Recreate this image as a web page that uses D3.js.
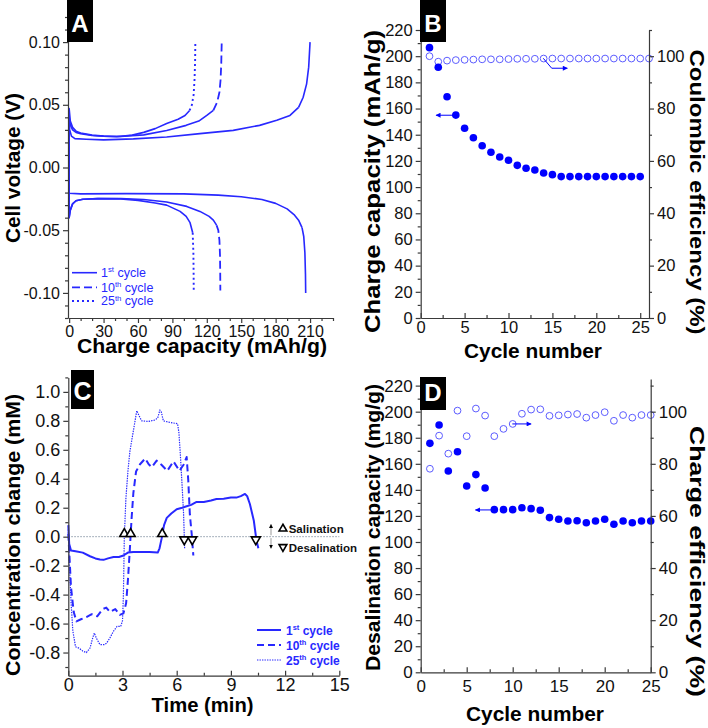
<!DOCTYPE html>
<html lang="en">
<head>
<meta charset="utf-8">
<title>Cycling and desalination performance</title>
<script src="https://d3js.org/d3.v7.min.js"></script>
<style>
  body { margin: 0; background: #fff; }
  svg text { font-family: Arial, "Liberation Sans", Helvetica, sans-serif; }
</style>
</head>
<body>
<script>
// ---------- Panel A: voltage profiles, [capacity (mAh/g), cell voltage (V)] ----------
const aCharge1 = [[0,-0.012],[0,0.036],[0.5,0.03],[2,0.025],[5,0.023],[15,0.0225],[30,0.022],[56,0.0228],[85,0.0243],[114,0.027],[143,0.0296],[166,0.0336],[181,0.0376],[192.5,0.0415],[200,0.048],[204,0.056],[207,0.0667],[208.8,0.08],[210,0.1]];
const aCharge10 = [[0,-0.01],[0,0.04],[1,0.034],[3,0.03],[6,0.028],[10,0.027],[20,0.0255],[30,0.025],[45,0.0248],[65,0.026],[85,0.0295],[102,0.0336],[113,0.037],[120,0.0415],[125.7,0.0455],[129,0.052],[131,0.06],[132,0.07],[132.6,0.083],[133,0.1]];
const aCharge25 = [[0,-0.01],[0,0.047],[1,0.037],[3,0.032],[6,0.029],[10,0.0275],[20,0.0258],[30,0.025],[41.5,0.0245],[55,0.0258],[65,0.028],[75,0.031],[85,0.035],[95,0.0385],[101,0.0415],[105,0.0455],[107,0.05],[108.5,0.058],[109.3,0.07],[109.8,0.085],[110,0.1]];
const aDischarge1 = [[0,-0.018],[0,-0.0205],[10,-0.021],[50,-0.0208],[100,-0.021],[130,-0.022],[150,-0.0233],[168,-0.0255],[180,-0.0286],[190,-0.033],[196,-0.0375],[200,-0.042],[203,-0.048],[204.5,-0.055],[205.5,-0.068],[206,-0.085],[206.2,-0.1]];
const aDischarge10 = [[0,0],[0,-0.04],[1,-0.034],[3,-0.029],[6,-0.0265],[12,-0.0253],[25,-0.0248],[45,-0.0248],[65,-0.0255],[85,-0.0275],[102.5,-0.031],[114,-0.035],[122,-0.039],[125.7,-0.042],[128.5,-0.046],[130,-0.05],[131,-0.058],[131.5,-0.07],[131.7,-0.085],[131.8,-0.098]];
const aDischarge25 = [[0,0],[0,-0.04],[1,-0.034],[3,-0.029],[6,-0.0265],[12,-0.0253],[25,-0.0248],[45,-0.025],[60,-0.0262],[75,-0.0283],[85,-0.03],[96.7,-0.035],[102,-0.039],[105.4,-0.044],[107.7,-0.052],[108.3,-0.068],[108.5,-0.085],[108.6,-0.098]];
const aXTicks = [0,30,60,90,120,150,180,210];
const aYTicks = [-0.1,-0.05,0,0.05,0.1];

// legend text shared by A and C
const cycleNum = ["1","10","25"];
const cycleSup = ["st","th","th"];

// ---------- Panel B: charge capacity and coulombic efficiency ----------
const bCycles = [1,2,3,4,5,6,7,8,9,10,11,12,13,14,15,16,17,18,19,20,21,22,23,24,25];
const bCapacity = [206.5,191.5,169,155,145,137.7,131.6,126.6,123,120.5,116.6,114.4,113,110.8,109.5,108,108,108,108,108,108,108,108,108,108];
const bCECycles = [1,2,3,4,5,6,7,8,9,10,11,12,13,14,15,16,17,18,19,20,21,22,23,24,25,26];
const bCE = [100,97.9,98.3,98.5,98.6,98.7,98.8,98.8,98.8,98.9,99,99,99,99.1,99.1,99.1,99.1,99.1,99.1,99.1,99.1,99.1,99.1,99.1,99.1,99.1];
const bXTicks = [0,5,10,15,20,25];
const bYTicks = [0,20,40,60,80,100,120,140,160,180,200,220];
const bY2Ticks = [0,20,40,60,80,100];

// ---------- Panel C: concentration change vs time ----------
const c1T = [0,0.05,0.15,0.4,0.8,1.2,1.5,1.75,1.95,2.2,2.5,2.8,3.05,3.3,3.6,4.0,4.5,4.95,5.05,5.17,5.3,5.45,5.7,6.0,6.3,6.55,6.8,7.1,7.5,7.9,8.2,8.6,9.0,9.3,9.55,9.78,9.9,10.05,10.27,10.42,10.52];
const c1V = [0.08,-0.05,-0.095,-0.1,-0.11,-0.135,-0.15,-0.158,-0.16,-0.15,-0.14,-0.14,-0.13,-0.11,-0.105,-0.105,-0.105,-0.11,-0.08,-0.01,0.08,0.13,0.16,0.19,0.2,0.21,0.22,0.24,0.24,0.25,0.26,0.262,0.27,0.27,0.28,0.295,0.28,0.226,0.11,-0.03,-0.08];
const c10T = [0,0.05,0.15,0.3,0.45,0.7,1.0,1.3,1.6,1.9,2.1,2.3,2.6,2.85,3.05,3.2,3.3,3.4,3.5,3.6,3.75,3.97,4.26,4.45,4.62,4.89,5.17,5.48,5.82,6.15,6.4,6.55,6.64,6.73,6.83,6.92];
const c10V = [0.02,-0.1,-0.35,-0.52,-0.585,-0.57,-0.555,-0.535,-0.55,-0.5,-0.49,-0.52,-0.5,-0.54,-0.53,-0.46,-0.3,-0.1,0.12,0.3,0.45,0.5,0.54,0.5,0.48,0.525,0.495,0.455,0.52,0.455,0.5,0.55,0.39,0.15,0.02,-0.13];
const c25T = [0,0.05,0.15,0.25,0.4,0.6,0.8,1.0,1.2,1.35,1.44,1.55,1.75,2.0,2.12,2.3,2.49,2.7,2.9,3.0,3.05,3.1,3.19,3.3,3.41,3.6,3.79,3.9,4.06,4.43,4.8,4.95,5.07,5.15,5.26,5.6,6.05,6.12,6.2,6.3,6.38,6.44];
const c25V = [0.05,-0.15,-0.45,-0.65,-0.76,-0.77,-0.79,-0.8,-0.77,-0.7,-0.665,-0.7,-0.745,-0.745,-0.735,-0.7,-0.655,-0.62,-0.62,-0.58,-0.4,0.0,0.27,0.45,0.59,0.73,0.87,0.84,0.8,0.796,0.806,0.82,0.875,0.86,0.8,0.79,0.78,0.72,0.57,0.35,0.16,-0.08];
const cSalinationT = [3.1,3.45,5.2];      // upward triangles
const cDesalinationT = [6.42,6.86,10.38]; // downward triangles
const cXTicks = [0,3,6,9,12,15];
const cYTicks = [-0.8,-0.6,-0.4,-0.2,0,0.2,0.4,0.6,0.8,1.0];

// ---------- Panel D: desalination capacity and charge efficiency ----------
const dCycles = [1,2,3,4,5,6,7,8,9,10,11,12,13,14,15,16,17,18,19,20,21,22,23,24,25];
const dCapacity = [175.7,189.8,154.5,169.3,143,151.7,141.4,124.8,124.8,124.8,126.3,125.6,124.3,118.7,117.4,116.1,116.3,114.8,116.1,117.4,113.6,116.1,114.8,116.1,116.1];
const dEfficiency = [78.1,90.8,83.9,100.4,90.6,101.2,98.5,90.6,93.4,95.3,99.2,100.8,100.9,98.4,98.6,98.9,99.1,97.7,98.7,99.8,96.5,98.7,97.7,98.7,98.7];
const dXTicks = [0,5,10,15,20,25];
const dYTicks = [0,20,40,60,80,100,120,140,160,180,200,220];
const dY2Ticks = [0,20,40,60,80,100];

// ---------- setup ----------
const BLUE = "#0000ff";
const LINE_BLUE = "#2828ff";
const OPEN_BLUE = "#5c5cff";
const AXIS_COL = "#3a3a3a";

const svg = d3.select("body").append("svg").attr("width", 708).attr("height", 728);

const defs = svg.append("defs");
function arrowMarker(id, color, w, h) {
  defs.append("marker").attr("id", id)
    .attr("viewBox", "0 0 10 10").attr("refX", 9).attr("refY", 5)
    .attr("markerUnits", "userSpaceOnUse")
    .attr("markerWidth", w).attr("markerHeight", h).attr("orient", "auto")
    .append("path").attr("d", "M0,0L10,5L0,10z").attr("fill", color);
}
arrowMarker("arrBlue", BLUE, 6, 5);
arrowMarker("arrBlack", "#000", 4, 4);

function minorTicks(scale, step, majors) {
  const [lo, hi] = scale.domain();
  const out = [];
  for (let v = Math.ceil(lo / step - 1e-6) * step; v <= hi + 1e-9; v += step) {
    const r = Math.round(v * 10000) / 10000;
    if (!majors.some(m => Math.abs(m - r) < step / 100)) out.push(r);
  }
  return out;
}

function drawAxis(orient, scale, pos, major, minorStep, fmt, fontSize, inward, pad) {
  const gen = { left: d3.axisLeft, right: d3.axisRight, bottom: d3.axisBottom }[orient];
  const g = svg.append("g")
    .attr("transform", orient === "bottom" ? `translate(0,${pos})` : `translate(${pos},0)`);
  g.call(gen(scale).tickValues(major).tickFormat(fmt)
    .tickSize(inward ? -5 : 5).tickSizeOuter(0).tickPadding(pad == null ? 3 : pad));
  g.append("g")
    .call(gen(scale).tickValues(minorTicks(scale, minorStep, major)).tickFormat("")
      .tickSize(inward ? -3 : 3).tickSizeOuter(0))
    .select(".domain").remove();
  g.selectAll(".domain, line").attr("stroke", AXIS_COL).attr("stroke-width", 1.2);
  g.selectAll("text").attr("font-size", fontSize).attr("fill", "#111")
    .attr("font-family", null);
  return g;
}

function title(text, x, y, rot, len, size) {
  const t = svg.append("text")
    .attr("transform", `translate(${x},${y}) rotate(${rot})`)
    .attr("text-anchor", "middle").attr("font-weight", "bold")
    .attr("font-size", size).attr("fill", "#000").text(text);
  if (len) t.attr("textLength", len).attr("lengthAdjust", "spacingAndGlyphs");
}

function panelLabel(letter, x, y, w, h, base, size) {
  svg.append("rect").attr("x", x).attr("y", y).attr("width", w).attr("height", h).attr("fill", "#000");
  svg.append("text").attr("x", x + w / 2).attr("y", base).attr("text-anchor", "middle")
    .attr("font-weight", "bold").attr("font-size", size).attr("fill", "#fff").text(letter);
}

function cycleLabel(sel, i, size) {
  sel.append("tspan").text(cycleNum[i]);
  sel.append("tspan").attr("font-size", size * 0.62).attr("dy", -size * 0.38).text(cycleSup[i]);
  sel.append("tspan").attr("font-size", size).attr("dy", size * 0.38).text(" cycle");
}

const fmtPlain = d => String(d);

// ================= Panel A =================
const xA = d3.scaleLinear().domain([-1, 230]).range([68, 333]);
const yA = d3.scaleLinear().domain([-0.12, 0.12]).range([318, 17]);

const lineA = d3.line().x(d => xA(d[0])).y(d => yA(d[1]));
const aStyles = [
  { dash: null, width: 1.6 },
  { dash: "8,4", width: 1.8 },
  { dash: "2,3", width: 1.9 }
];
const aCurves = [
  [aCharge1, 0], [aDischarge1, 0],
  [aCharge10, 1], [aDischarge10, 1],
  [aCharge25, 2], [aDischarge25, 2]
];
// dense flat part renders solid, steep end shows the cycle's dash pattern
aCurves.forEach(([pts, s]) => {
  const k = pts.findIndex(p => p[0] > 50 && Math.abs(p[1]) >= 0.045);
  const flat = k < 0 ? pts : pts.slice(0, k + 1);
  svg.append("path").attr("d", lineA(flat)).attr("fill", "none")
    .attr("stroke", LINE_BLUE).attr("stroke-width", 1.6).attr("stroke-linejoin", "round");
  if (k >= 0) {
    svg.append("path").attr("d", lineA(pts.slice(k))).attr("fill", "none")
      .attr("stroke", LINE_BLUE).attr("stroke-width", aStyles[s].width)
      .attr("stroke-dasharray", aStyles[s].dash);
  }
});

drawAxis("left", yA, 68, aYTicks, 0.01, d => d.toFixed(2), 16, false);
drawAxis("bottom", xA, 318, aXTicks, 10, fmtPlain, 16, false);

// legend A
[272.7, 287.3, 301].forEach((ly, i) => {
  svg.append("line").attr("x1", 72).attr("x2", 97).attr("y1", ly).attr("y2", ly)
    .attr("stroke", LINE_BLUE).attr("stroke-width", aStyles[i].width)
    .attr("stroke-dasharray", aStyles[i].dash);
  const t = svg.append("text").attr("x", 101).attr("y", ly + 4.3)
    .attr("font-size", 12.5).attr("fill", LINE_BLUE);
  cycleLabel(t, i, 12.5);
});

title("Charge capacity (mAh/g)", 202, 353, 0, 250, 21);
title("Cell voltage (V)", 20, 168, -90, 150, 21);
panelLabel("A", 67, 0, 26, 42, 32, 24);

// ================= Panel B =================
const xB = d3.scaleLinear().domain([0, 26]).range([420.7, 649]);
const yB = d3.scaleLinear().domain([0, 220]).range([318, 30]);
const yB2 = d3.scaleLinear().domain([0, 110]).range([318, 30]);

svg.append("g").selectAll("circle").data(bCECycles).join("circle")
  .attr("cx", d => xB(d)).attr("cy", (d, i) => yB2(bCE[i])).attr("r", 3.4)
  .attr("fill", "none").attr("stroke", OPEN_BLUE).attr("stroke-width", 1);
svg.append("g").selectAll("circle").data(bCycles).join("circle")
  .attr("cx", d => xB(d)).attr("cy", (d, i) => yB(bCapacity[i])).attr("r", 3.8)
  .attr("fill", BLUE);

const bArrowLeft = [[3.9, 154.9], [1.75, 154.9]];          // left-axis units
const bArrowRight = [[13.96, 99.2], [14.92, 95.4], [16.7, 95.4]]; // right-axis units
svg.append("path").attr("d", d3.line().x(d => xB(d[0])).y(d => yB(d[1]))(bArrowLeft))
  .attr("fill", "none").attr("stroke", BLUE).attr("stroke-width", 1).attr("marker-end", "url(#arrBlue)");
svg.append("path").attr("d", d3.line().x(d => xB(d[0])).y(d => yB2(d[1]))(bArrowRight))
  .attr("fill", "none").attr("stroke", BLUE).attr("stroke-width", 1).attr("marker-end", "url(#arrBlue)");

drawAxis("left", yB, 420.7, bYTicks, 10, fmtPlain, 16.5, false);
drawAxis("right", yB2, 649, bY2Ticks, 10, fmtPlain, 16.5, false);
drawAxis("bottom", xB, 318, bXTicks, 2.5, fmtPlain, 16.5, true);

title("Cycle number", 533, 358, 0, 138, 21);
title("Charge capacity (mAh/g)", 380, 181.5, -90, 303, 22);
title("Coulombic efficiency (%)", 690, 192, 90, 285, 21);
panelLabel("B", 420, 0, 26, 42, 32, 24);

// ================= Panel C =================
const xC = d3.scaleLinear().domain([0, 15]).range([68.3, 339.3]);
const yC = d3.scaleLinear().domain([-0.96, 1.1]).range([675.7, 377.4]);

svg.append("line").attr("x1", xC(0)).attr("x2", xC(15)).attr("y1", yC(0)).attr("y2", yC(0))
  .attr("stroke", "#8a98a8").attr("stroke-width", 1).attr("stroke-dasharray", "1.5,1.5");

const cSeries = [
  { t: c1T, v: c1V, dash: null, width: 2 },
  { t: c10T, v: c10V, dash: "7,4", width: 2 },
  { t: c25T, v: c25V, dash: "1.4,1.1", width: 1.2 }
];
const lineC = d3.line().x(d => xC(d[0])).y(d => yC(d[1]));
cSeries.forEach(s => {
  svg.append("path").attr("d", lineC(d3.zip(s.t, s.v))).attr("fill", "none")
    .attr("stroke", LINE_BLUE).attr("stroke-width", s.width)
    .attr("stroke-dasharray", s.dash).attr("stroke-linejoin", "round");
});

const triUp = d3.symbol(d3.symbolTriangle, 36);
svg.append("g").selectAll("path").data(cSalinationT).join("path")
  .attr("d", triUp).attr("transform", d => `translate(${xC(d)},${yC(0) - 2.8})`)
  .attr("fill", "#fff").attr("stroke", "#000").attr("stroke-width", 1.6);
svg.append("g").selectAll("path").data(cDesalinationT).join("path")
  .attr("d", triUp).attr("transform", d => `translate(${xC(d)},${yC(0) + 2.8}) rotate(180)`)
  .attr("fill", "#fff").attr("stroke", "#000").attr("stroke-width", 1.6);

// salination / desalination key
const keyT = 11.22;
svg.append("line").attr("x1", xC(keyT)).attr("x2", xC(keyT)).attr("y1", yC(0.01)).attr("y2", yC(0.085))
  .attr("stroke", "#999").attr("stroke-width", 1).attr("marker-end", "url(#arrBlack)");
svg.append("line").attr("x1", xC(keyT)).attr("x2", xC(keyT)).attr("y1", yC(-0.01)).attr("y2", yC(-0.08))
  .attr("stroke", "#999").attr("stroke-width", 1).attr("marker-end", "url(#arrBlack)");
svg.append("path").attr("d", d3.symbol(d3.symbolTriangle, 26))
  .attr("transform", `translate(${xC(11.88)},${yC(0.055)})`)
  .attr("fill", "#fff").attr("stroke", "#000").attr("stroke-width", 1.6);
svg.append("path").attr("d", d3.symbol(d3.symbolTriangle, 26))
  .attr("transform", `translate(${xC(11.88)},${yC(-0.07)}) rotate(180)`)
  .attr("fill", "#fff").attr("stroke", "#000").attr("stroke-width", 1.6);
svg.append("text").attr("x", xC(12.2)).attr("y", yC(0.028)).attr("font-size", 11.5)
  .attr("font-weight", "bold").attr("fill", "#111").text("Salination");
svg.append("text").attr("x", xC(12.2)).attr("y", yC(-0.103)).attr("font-size", 11.5)
  .attr("font-weight", "bold").attr("fill", "#111").text("Desalination");

drawAxis("left", yC, 68.3, cYTicks, 0.1, d => d.toFixed(1), 18, false);
drawAxis("bottom", xC, 675.7, cXTicks, 1.5, fmtPlain, 18, true);

// legend C
[630, 645, 660].forEach((ly, i) => {
  svg.append("line").attr("x1", 257).attr("x2", 281).attr("y1", ly).attr("y2", ly)
    .attr("stroke", LINE_BLUE).attr("stroke-width", cSeries[i].width)
    .attr("stroke-dasharray", cSeries[i].dash);
  const t = svg.append("text").attr("x", 286).attr("y", ly + 5)
    .attr("font-size", 12).attr("font-weight", "bold").attr("fill", LINE_BLUE);
  cycleLabel(t, i, 12);
});

title("Time (min)", 202.5, 712, 0, 102, 21);
title("Concentration change (mM)", 20, 535, -90, 282, 21);
panelLabel("C", 71, 370, 23, 39, 400, 25);

// ================= Panel D =================
const xD = d3.scaleLinear().domain([0, 25]).range([420.7, 650.7]);
const yD = d3.scaleLinear().domain([0, 225]).range([672.3, 379.1]);
const yD2 = d3.scaleLinear().domain([0, 112.5]).range([672.3, 379.1]);

svg.append("g").selectAll("circle").data(dCycles).join("circle")
  .attr("cx", d => xD(d)).attr("cy", (d, i) => yD2(dEfficiency[i])).attr("r", 3.4)
  .attr("fill", "none").attr("stroke", OPEN_BLUE).attr("stroke-width", 1);
svg.append("g").selectAll("circle").data(dCycles).join("circle")
  .attr("cx", d => xD(d)).attr("cy", (d, i) => yD(dCapacity[i])).attr("r", 3.8)
  .attr("fill", BLUE);

const dArrowLeft = [[7.7, 124.6], [5.95, 124.6]];
const dArrowRight = [[9.96, 95.3], [12.0, 95.3]];
svg.append("path").attr("d", d3.line().x(d => xD(d[0])).y(d => yD(d[1]))(dArrowLeft))
  .attr("fill", "none").attr("stroke", BLUE).attr("stroke-width", 1).attr("marker-end", "url(#arrBlue)");
svg.append("path").attr("d", d3.line().x(d => xD(d[0])).y(d => yD2(d[1]))(dArrowRight))
  .attr("fill", "none").attr("stroke", BLUE).attr("stroke-width", 1).attr("marker-end", "url(#arrBlue)");

drawAxis("left", yD, 420.7, dYTicks, 10, fmtPlain, 17, false);
drawAxis("right", yD2, 650.7, dY2Ticks, 10, fmtPlain, 17, false);
drawAxis("bottom", xD, 672.3, dXTicks, 2.5, fmtPlain, 17, true, 7.5);

title("Cycle number", 535, 721, 0, 138, 21);
title("Desalination capacity (mg/g)", 380, 527.5, -90, 287, 21);
title("Charge efficiency (%)", 690, 561.5, 90, 271, 21);
panelLabel("D", 420, 377, 26, 33, 401, 24);
</script>
</body>
</html>
